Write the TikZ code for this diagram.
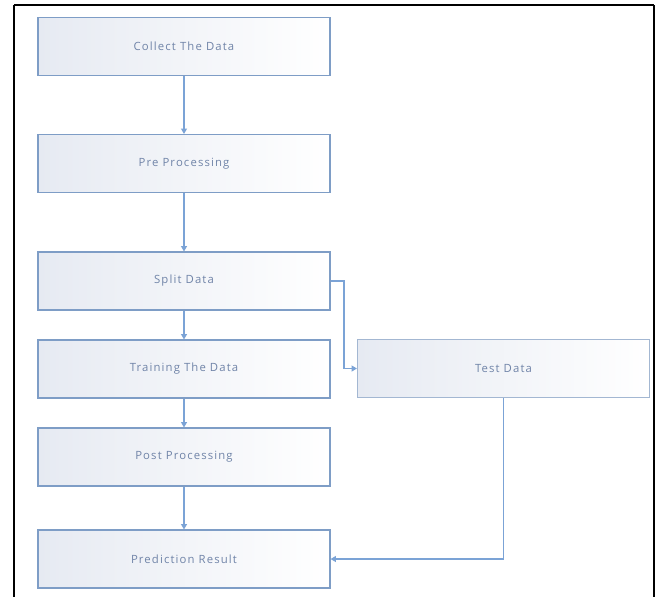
\documentclass[tikz,border=0pt]{standalone}
\usepackage{fontspec}
\setmainfont{Open Sans}
\newfontfamily\boxfont[LetterSpace=10]{Open Sans}
\usetikzlibrary{arrows.meta}
\definecolor{boxline}{HTML}{7E9DC6}
\definecolor{testline}{HTML}{A3B7D2}
\definecolor{conn}{HTML}{7BA3D6}
\definecolor{txt}{HTML}{7084A8}
\definecolor{boxleft}{HTML}{E6EAF2}
\tikzset{
  stepbox/.style={draw=boxline, line width=0.9pt, left color=boxleft, right color=white,
    minimum width=292*0.75pt, minimum height=58*0.75pt, inner sep=0pt,
    text=txt, font=\boxfont\fontsize{8.5}{10}\selectfont},
  conn/.style={draw=conn, line width=0.8pt, -{Triangle[length=4pt,width=4.5pt]}},
}
\begin{document}
\begin{tikzpicture}[x=0.75pt,y=-0.75pt]
\useasboundingbox (0,0) rectangle (659,596);
\fill[white] (0,0) rectangle (659,596);
\draw[line width=1.5pt] (14,5) -- (654,5) (14,5) -- (14,600) (654,5) -- (654,600);
\node[stepbox] (collect) at (184,46.5) {Collect The Data};
\node[stepbox] (pre) at (184,163.5) {Pre Processing};
\node[stepbox] (split) at (184,281) {Split Data};
\node[stepbox] (train) at (184,369) {Training The Data};
\node[stepbox] (post) at (184,457) {Post Processing};
\node[stepbox] (pred) at (184,559) {Prediction Result};
\node[stepbox, draw=testline] (test) at (503.5,368.5) {Test Data};
\coordinate (c1) at (344,281);
\coordinate (c2) at (344,368.5);
\coordinate (c3) at (503.5,559);
\draw[conn] (collect) -- (pre);
\draw[conn] (pre) -- (split);
\draw[conn] (split) -- (train);
\draw[conn] (train) -- (post);
\draw[conn] (post) -- (pred);
\draw[conn] (split.east) -- (c1) -- (c2) -- (test.west);
\draw[conn] (test.south) -- (c3) -- (pred.east);
\end{tikzpicture}
\end{document}
